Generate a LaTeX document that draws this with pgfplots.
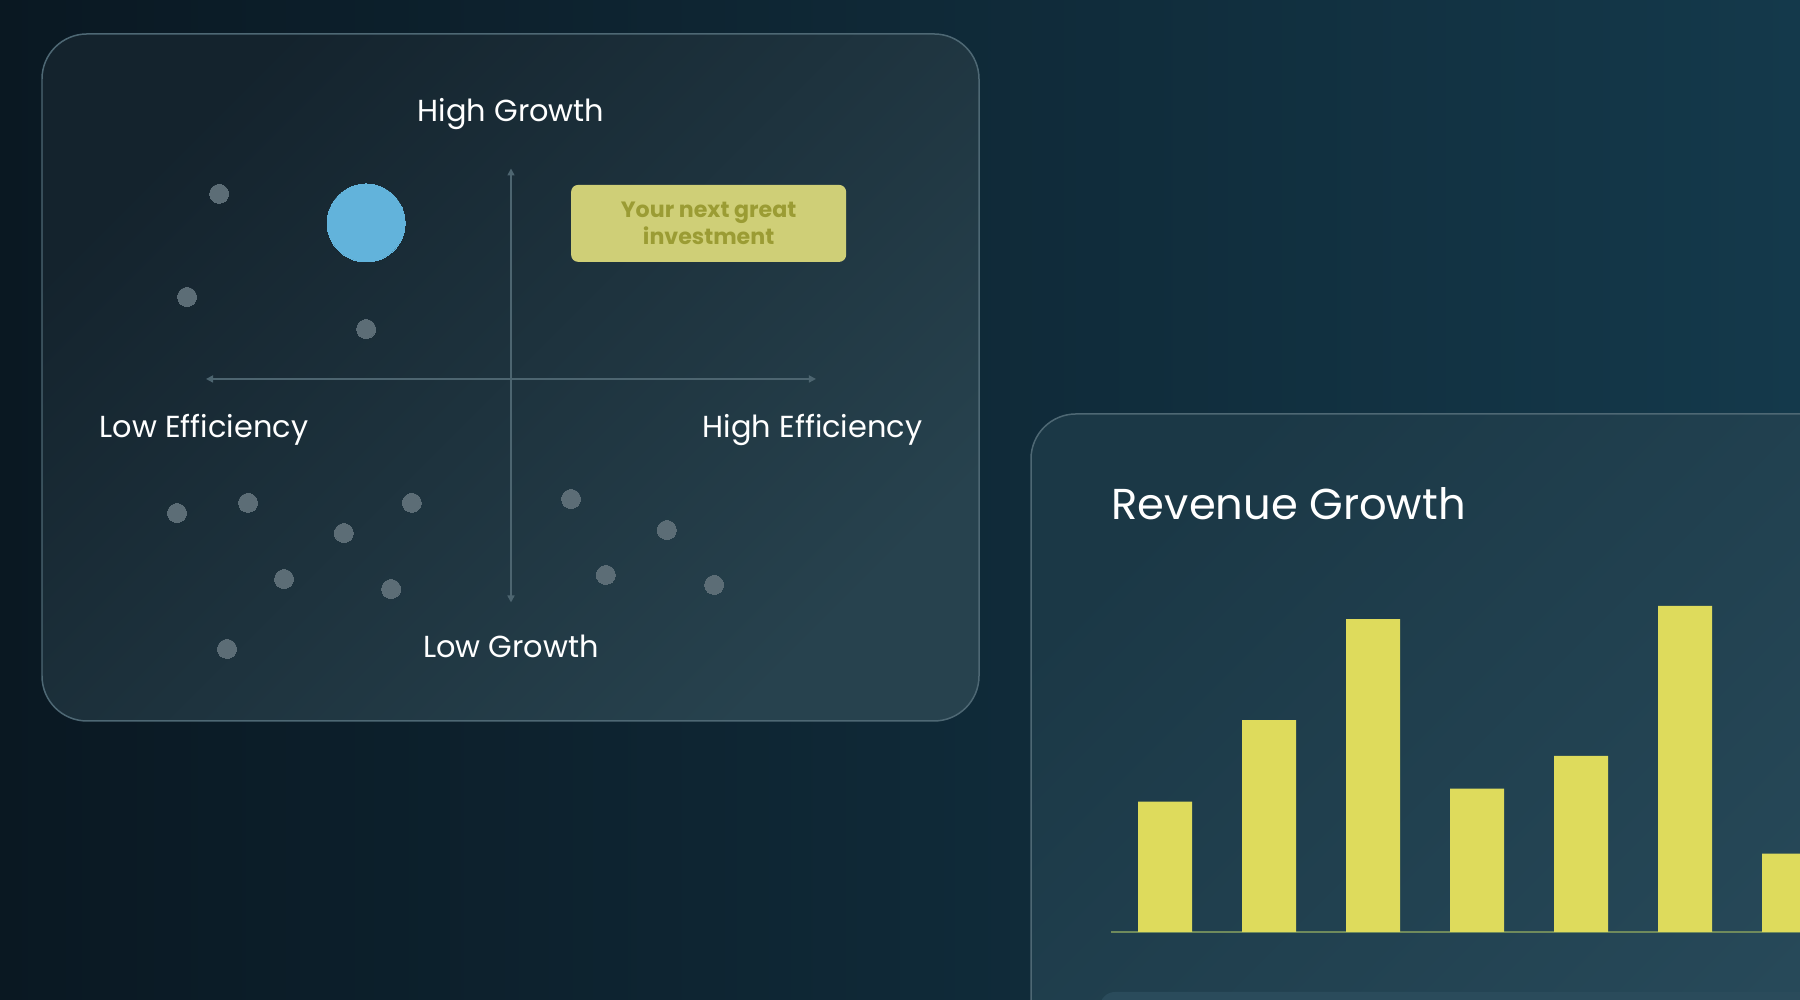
\documentclass[border=0pt]{standalone}
\usepackage{pgfplots}
\pgfplotsset{compat=1.18}
\usepackage{fontspec}
\setmainfont{Poppins}
\usetikzlibrary{arrows.meta}

\definecolor{bgL}{HTML}{0A1822}
\definecolor{bgR}{HTML}{14394B}
\definecolor{cardA}{HTML}{14232D}
\definecolor{cardB}{HTML}{27424E}
\definecolor{cardLine}{HTML}{4E6874}
\definecolor{rcardA}{HTML}{1B3846}
\definecolor{rcardB}{HTML}{274959}
\definecolor{innerbox}{HTML}{2A4B5B}
\definecolor{dotgray}{HTML}{5C6D76}
\definecolor{bubble}{HTML}{62B3DB}
\definecolor{arrowgray}{HTML}{4D6570}
\definecolor{tagfill}{HTML}{CFCF77}
\definecolor{tagtext}{HTML}{9B9C34}
\definecolor{barfill}{HTML}{DEDB5C}
\definecolor{axisgreen}{HTML}{6F8A5C}

\begin{document}
\begin{tikzpicture}[x=1cm,y=1cm]
\useasboundingbox (0,0) rectangle (18,10);
\clip (0,0) rectangle (18,10);
\shade[left color=bgL, right color=bgR] (0,0) rectangle (18,10);

% cards
\shade[rounded corners=0.45cm, top color=cardA, bottom color=cardB, shading angle=45]
  (0.42,2.79) rectangle (9.79,9.66);
\draw[cardLine, line width=0.015cm, rounded corners=0.45cm] (0.42,2.79) rectangle (9.79,9.66);
\shade[rounded corners=0.45cm, top color=rcardA, bottom color=rcardB, shading angle=45]
  (10.31,-1) rectangle (19,5.86);
\draw[cardLine, line width=0.015cm, rounded corners=0.45cm] (10.31,-1) rectangle (19,5.86);
\fill[innerbox, rounded corners=0.15cm] (11.0,-1) rectangle (19,0.08);

% growth / efficiency quadrant
\begin{axis}[
    at={(2.06cm,3.975cm)}, anchor=south west,
    scale only axis, width=6.1cm, height=4.34cm,
    xmin=-10, xmax=10, ymin=-10.3, ymax=9.7,
    axis lines=middle, ticks=none, clip=false,
    x axis line style={arrowgray, line width=0.45pt, {Triangle[length=0.7mm,width=0.7mm]}-{Triangle[length=0.7mm,width=0.7mm]}},
    y axis line style={arrowgray, line width=0.45pt, {Triangle[length=0.7mm,width=0.7mm]}-{Triangle[length=0.7mm,width=0.7mm]}},
]
\addplot[only marks, color=dotgray, mark=*, mark size=2.7pt, mark options={draw=dotgray, fill=dotgray, line width=0pt}] coordinates {
  (-9.57,8.53) (-10.62,3.78) (-4.75,2.30)
  (-10.95,-6.18) (-8.62,-5.71) (-5.48,-7.10) (-3.25,-5.71)
  (-7.44,-9.22) (-3.93,-9.68) (-9.31,-12.44)
  (1.97,-5.53) (5.11,-6.96) (3.11,-9.03) (6.66,-9.49)
};
\addplot[only marks, color=bubble, mark=*, mark size=11.1pt, mark options={draw=bubble, fill=bubble, line width=0pt}] coordinates {(-4.75,7.19)};
\node[fill=tagfill, rounded corners=2pt, minimum width=2.75cm, minimum height=0.77cm, inner sep=0pt,
      text=tagtext, align=center, font=\bfseries\fontsize{6.3pt}{7.9pt}\selectfont]
  at (axis cs:6.48,7.17) {Your next great\\investment};
\end{axis}

\node[white, anchor=base, font=\fontsize{8.65pt}{10pt}\selectfont] at (5.11,8.78) {High Growth};
\node[white, anchor=base, font=\fontsize{8.65pt}{10pt}\selectfont] at (5.11,3.42) {Low Growth};
\node[white, anchor=base west, inner sep=0pt, font=\fontsize{8.65pt}{10pt}\selectfont] at (0.99,5.62) {Low Efficiency};
\node[white, anchor=base east, inner sep=0pt, font=\fontsize{8.65pt}{10pt}\selectfont] at (9.23,5.62) {High Efficiency};

% revenue bars
\node[white, anchor=base west, inner sep=0pt, font=\fontsize{12.3pt}{14pt}\selectfont] at (11.11,4.80) {Revenue Growth};
\begin{axis}[
    at={(11.11cm,0.68cm)}, anchor=south west,
    scale only axis, width=6.989cm, height=3.26cm,
    xmin=0.48, xmax=7.2, ymin=0, ymax=100,
    ybar, bar width=0.519,
    axis x line*=bottom, axis y line=none,
    x axis line style={draw=axisgreen, line width=0.6pt, -},
    ticks=none,
]
\addplot[fill=barfill, draw=none] coordinates {(1,40) (2,65) (3,96) (4,44) (5,54) (6,100) (7,24)};
\end{axis}
\end{tikzpicture}
\end{document}
